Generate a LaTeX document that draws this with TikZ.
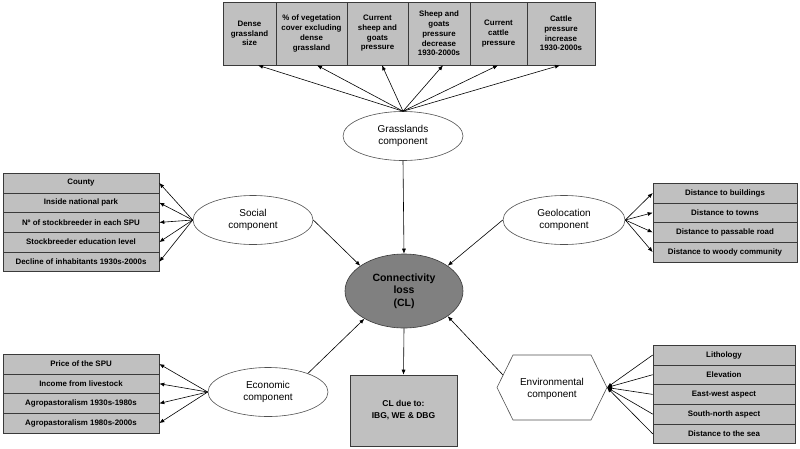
\documentclass[tikz,border=0pt]{standalone}
\usepackage{fontspec}
\setmainfont{Liberation Sans}
\usetikzlibrary{arrows.meta,shapes.geometric,calc}
\definecolor{boxfill}{HTML}{C0C0C0}
\definecolor{boxline}{HTML}{3A3A3A}
\definecolor{clfill}{HTML}{808080}
\definecolor{compline}{HTML}{505050}
\begin{document}
\begin{tikzpicture}[x=1pt,y=-1pt,
  box/.style={draw=boxline, fill=boxfill, line width=0.6pt, inner sep=0pt, align=center,
    font=\bfseries\fontsize{7.9}{9.7}\selectfont},
  rowbox/.style={box, minimum height=19.7pt, font=\bfseries\fontsize{7.9}{9}\selectfont},
  comp/.style={ellipse, draw=compline, fill=white, line width=0.6pt, inner sep=0pt, align=center,
    font=\fontsize{10}{11.7}\selectfont, minimum width=120pt, minimum height=49pt},
  arr/.style={-{Latex[length=5pt,width=4pt]}, line width=0.6pt, black}]
\fill[white] (0,0) rectangle (800,448);
\useasboundingbox (0,0) rectangle (800,448);

% top boxes
\node[box, minimum width=53pt, minimum height=63pt] (t1) at (249.5,33.5) {Dense\\grassland\\size};
\node[box, minimum width=71pt, minimum height=63pt] (t2) at (311.5,33.5) {\% of vegetation\\cover excluding\\dense\\grassland};
\node[box, minimum width=61pt, minimum height=63pt] (t3) at (377.5,33.5) {Current\\sheep and\\goats\\pressure};
\node[box, minimum width=62pt, minimum height=63pt] (t4) at (439,33.5) {Sheep and\\goats\\pressure\\decrease\\1930-2000s};
\node[box, minimum width=57pt, minimum height=63pt] (t5) at (498.5,33.5) {Current\\cattle\\pressure};
\node[box, minimum width=68pt, minimum height=63pt] (t6) at (561,33.5) {Cattle\\pressure\\increase\\1930-2000s};

% social rows
\node[rowbox, minimum width=156pt] (s1) at (81,183) {County};
\node[rowbox, minimum width=156pt] (s2) at (81,202.7) {Inside national park};
\node[rowbox, minimum width=156pt] (s3) at (81,222.4) {Nº of stockbreeder in each SPU};
\node[rowbox, minimum width=156pt] (s4) at (81,242.1) {Stockbreeder education level};
\node[rowbox, minimum width=156pt] (s5) at (81,261.8) {Decline of inhabitants 1930s-2000s};

% geolocation rows
\node[rowbox, minimum width=144pt] (g1) at (725,193) {Distance to buildings};
\node[rowbox, minimum width=144pt] (g2) at (725,212.7) {Distance to towns};
\node[rowbox, minimum width=144pt] (g3) at (725,232.4) {Distance to passable road};
\node[rowbox, minimum width=144pt] (g4) at (725,252.1) {Distance to woody community};

% economic rows
\node[rowbox, minimum width=156pt] (e1) at (81,364) {Price of the SPU};
\node[rowbox, minimum width=156pt] (e2) at (81,383.7) {Income from livestock};
\node[rowbox, minimum width=156pt] (e3) at (81,403.4) {Agropastoralism 1930s-1980s};
\node[rowbox, minimum width=156pt] (e4) at (81,423.1) {Agropastoralism 1980s-2000s};

% environmental rows
\node[rowbox, minimum width=142pt] (v1) at (724,355) {Lithology};
\node[rowbox, minimum width=142pt] (v2) at (724,374.7) {Elevation};
\node[rowbox, minimum width=142pt] (v3) at (724,394.4) {East-west aspect};
\node[rowbox, minimum width=142pt] (v4) at (724,414.1) {South-north aspect};
\node[rowbox, minimum width=142pt] (v5) at (724,433.8) {Distance to the sea};

% components
\node[comp] (grass) at (403,136) {Grasslands\\component};
\node[comp] (social) at (253,220) {Social\\component};
\node[comp, minimum width=122pt] (geo) at (564,220) {Geolocation\\component};
\node[comp] (econ) at (268,392) {Economic\\component};

% environmental hexagon
\draw[draw=compline, fill=white, line width=0.6pt] (497,387.5) -- (513,355) -- (591,355) -- (607,387.5) -- (591,420) -- (513,420) -- cycle;
\node[inner sep=0pt, align=center, font=\fontsize{10}{11.7}\selectfont] (env) at (552,389) {Environmental\\component};
\coordinate (envR) at (607,387.5);
\coordinate (envUL) at (503,375);

% central
\node[ellipse, draw=boxline, fill=clfill, line width=0.6pt, inner sep=0pt, align=center,
  minimum width=118pt, minimum height=74pt, font=\bfseries\fontsize{10.5}{12.5}\selectfont] (cl) at (404,291) {Connectivity\\loss\\(CL)};
\node[box, minimum width=107pt, minimum height=71pt, font=\bfseries\fontsize{8.5}{12}\selectfont] (clbox) at (403.5,410.5) {CL due to:\\IBG, WE \& DBG};

% connectors
\foreach \t/\dx in {t1/8.5,t2/5.5,t3/4.5,t4/4,t5/-0.5,t6/-1}
  \draw[arr] (grass.north) -- ($(\t.south)+(\dx,0)$);
\foreach \s in {s1,s2,s3,s4,s5} \draw[arr] (social.west) -- (\s.east);
\foreach \g in {g1,g2,g3,g4} \draw[arr] (geo.east) -- (\g.west);
\foreach \e in {e1,e2,e3,e4} \draw[arr] (econ.west) -- (\e.east);
\foreach \v in {v1,v2,v3,v4,v5} \draw[arr] (\v.west) -- (envR);

\draw[arr] (grass.south) -- (cl.north);
\draw[arr] (social.east) -- (cl.150);
\draw[arr] (geo.west) -- (cl.30);
\draw[arr] (econ.25) -- (cl.215);
\draw[arr] (envUL) -- (cl.330);
\draw[arr] (cl.south) -- (clbox.north);
\end{tikzpicture}
\end{document}
